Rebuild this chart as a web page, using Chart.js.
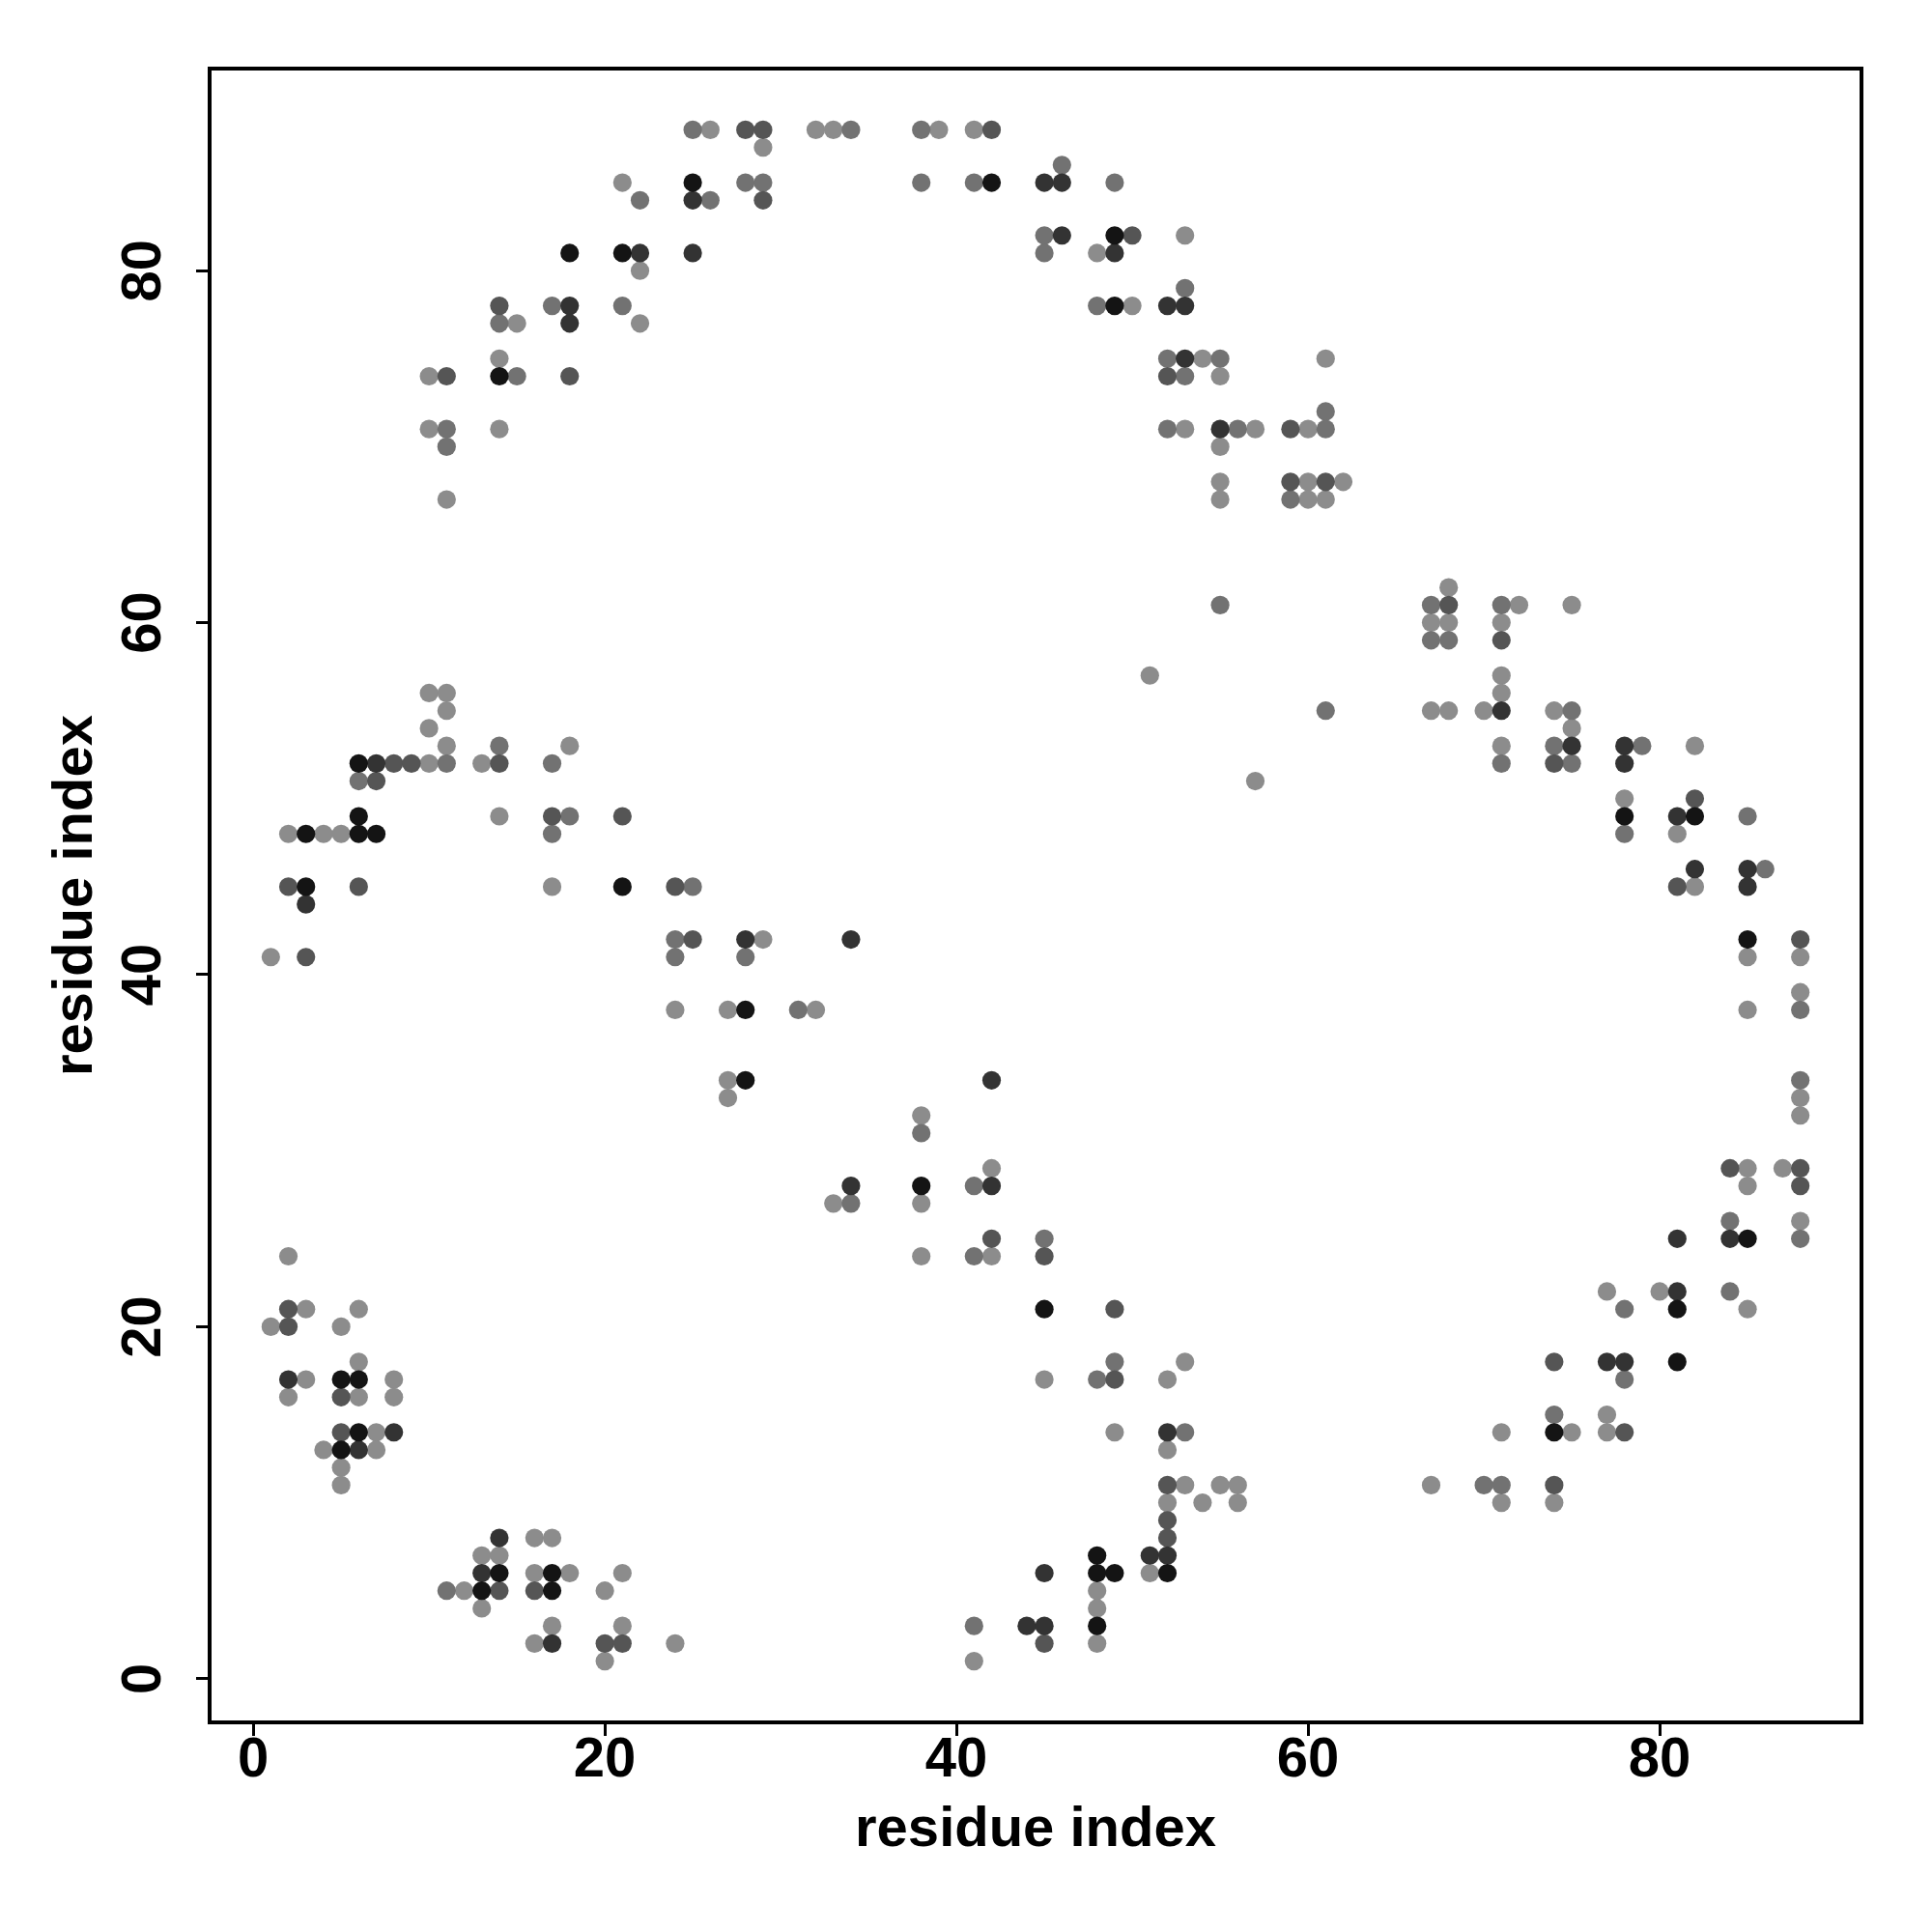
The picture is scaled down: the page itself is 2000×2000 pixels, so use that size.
<!DOCTYPE html>
<html>
<head>
<meta charset="utf-8">
<script src="https://cdn.jsdelivr.net/npm/chart.js@4.4.1/dist/chart.umd.min.js"></script>
<style>
  html, body { margin: 0; padding: 0; background: #fff; }
  #wrap { width: 2000px; height: 2000px; }
</style>
</head>
<body>
<div id="wrap"><canvas id="contactMap" width="2000" height="2000"></canvas></div>
<script>
// axis
const tickValues = [0, 20, 40, 60, 80];
const axisMin = -2.48;
const axisMax = 91.48;
const axisTitle = 'residue index';

// contacts [i, j], grouped by shade (0 = strongest / darkest)
const contacts0 = [
  [25,85],[42,85],[49,82],[49,78],[21,81],[18,81],[14,74],
  [6,52],[6,49],[3,48],[6,48],[7,48],[3,45],[21,45],
  [28,38],[28,34],[38,28],
  [5,17],[6,17],[6,14],[5,13],[14,6],[17,6],[13,5],[17,5],
  [45,21],[48,7],[48,6],[49,6],[52,6],[48,3],
  [78,49],[82,49],[85,42],[85,25],[81,21],[74,14],[81,18]
];
const contacts1 = [
  [45,85],[46,85],[46,82],[49,81],[52,78],[53,78],[53,75],[55,71],
  [25,84],[22,81],[25,81],[18,78],[18,77],
  [7,52],[3,44],[28,42],[34,42],[42,34],[34,28],[42,28],
  [2,17],[8,14],[6,13],[14,8],[13,6],[17,2],
  [44,3],[45,3],[51,7],[52,7],[45,6],[52,14],
  [71,55],[75,53],[78,53],[78,52],[81,49],[82,46],[85,46],[85,45],
  [81,25],[84,25],[81,22],[77,18],[78,18]
];
const contacts2 = [
  [28,88],[29,88],[42,88],[29,84],[50,82],[52,74],[59,71],[59,68],[61,68],
  [14,78],[11,74],[18,74],
  [8,52],[9,52],[14,52],[7,51],[17,49],[21,49],[2,45],[6,45],[3,41],
  [24,45],[25,42],
  [2,21],[2,20],[5,16],[5,14],[14,5],[16,5],[20,2],[21,2],
  [42,25],[45,24],[49,21],[49,17],[52,11],[52,9],[52,8],[45,2],
  [68,61],[71,59],[74,52],[82,50],[81,45],[88,42],
  [84,29],[88,29],[88,28],[74,18],[78,14],[74,11]
];
const contacts3 = [
  [25,88],[34,88],[38,88],[28,85],[29,85],[38,85],[41,85],[22,84],[26,84],
  [46,86],[49,85],[45,82],[45,81],[53,79],[48,78],[52,75],[55,75],[53,74],
  [61,72],[52,71],[56,71],[61,71],[59,67],
  [21,78],[17,78],[14,77],[15,74],[11,71],[11,70],
  [55,61],[61,55],
  [67,61],[71,61],[67,59],[68,59],[75,55],[74,53],[79,53],[71,52],[75,52],
  [78,48],[86,46],[85,49],[88,38],[88,34],
  [14,53],[11,52],[17,52],[6,51],[18,49],[17,48],
  [25,45],[24,42],[24,41],[28,41],[31,38],
  [38,31],[41,28],[34,27],[41,24],[11,5],
  [41,3],[45,25],[49,18],[48,17],[53,14],
  [84,26],[88,25],[84,22],[78,21],[78,17],[74,15],[70,11],[71,11]
];
const contacts4 = [
  [26,88],[32,88],[33,88],[39,88],[41,88],[29,87],[21,85],[53,82],[48,81],
  [50,78],[54,75],[61,75],[55,74],[53,71],[57,71],[60,71],[55,70],
  [55,68],[60,68],[62,68],[55,67],[60,67],[61,67],
  [22,80],[22,77],[15,77],[14,75],[10,74],[10,71],[14,71],[11,67],
  [68,62],[72,61],[75,61],[67,60],[68,60],[71,60],[71,57],[71,56],
  [67,55],[68,55],[70,55],[74,55],[75,54],[71,53],[82,53],[78,50],[81,48],
  [82,45],[85,41],[88,41],[88,39],[85,38],[88,33],[88,32],
  [51,57],[57,51],
  [10,56],[11,56],[11,55],[10,54],[11,53],[18,53],[10,52],[13,52],[14,49],
  [2,48],[4,48],[5,48],[17,45],[1,41],
  [29,42],[24,38],[27,38],[32,38],[27,34],[27,33],[38,32],
  [42,29],[33,27],[38,27],[38,24],[42,24],
  [2,24],[3,21],[6,21],[1,20],[5,20],[6,18],[3,17],[8,17],[2,16],[6,16],[8,16],
  [7,14],[4,13],[7,13],[5,12],[5,11],
  [16,8],[17,8],[13,7],[14,7],[16,6],[18,6],[21,6],[12,5],[20,5],[13,4],
  [17,3],[21,3],[16,2],[20,1],[24,2],
  [41,1],[45,17],[52,17],[53,18],[49,14],[52,13],[53,11],[55,11],[56,11],
  [54,10],[52,10],[56,10],[51,6],[48,5],[48,4],[48,2],
  [85,29],[87,29],[85,28],[88,26],[77,22],[80,22],[85,21],[77,15],
  [71,14],[75,14],[77,14],[67,11],[71,10],[74,10]
];

const shadeColors = ['#141414', '#333333', '#555555', '#727272', '#8c8c8c'];
const contactLevels = [contacts0, contacts1, contacts2, contacts3, contacts4];

// lightest first so darker points sit on top
const datasets = contactLevels.map((pairs, k) => ({
    label: 'level ' + k,
    data: pairs.map(p => ({ x: p[0], y: p[1] })),
    backgroundColor: shadeColors[k],
    borderWidth: 0,
    pointRadius: 9.6,
    pointHoverRadius: 9.6,
    order: k
})).reverse();

const fontFamily = '"Liberation Sans", Arial, Helvetica, sans-serif';

const boxPlugin = {
    id: 'plotBox',
    afterDatasetsDraw(chart) {
        const { ctx, chartArea: a } = chart;
        ctx.save();
        ctx.lineWidth = 4;
        ctx.strokeStyle = '#000';
        ctx.strokeRect(a.left, a.top, a.right - a.left, a.bottom - a.top);
        ctx.restore();
    }
};

function axisOptions(isY) {
    return {
        type: 'linear',
        min: axisMin,
        max: axisMax,
        afterBuildTicks: s => { s.ticks = tickValues.map(v => ({ value: v })); },
        afterFit: s => {
            if (isY) s.width = 217;
            else s.height = 217;
        },
        border: { display: false },
        grid: {
            drawOnChartArea: false,
            drawTicks: true,
            tickLength: 14,
            tickWidth: 3,
            tickColor: '#000'
        },
        ticks: {
            color: '#000',
            padding: isY ? 21 : -9,
            crossAlign: isY ? 'center' : 'near',
            minRotation: isY ? 90 : 0,
            maxRotation: isY ? 90 : 0,
            font: { family: fontFamily, size: 58, weight: 'bold' }
        },
        title: {
            display: true,
            text: axisTitle,
            color: '#000',
            padding: isY ? { top: 44, bottom: 44 } : { top: 70, bottom: 70 },
            font: { family: fontFamily, size: 58, weight: 'bold' }
        }
    };
}

new Chart(document.getElementById('contactMap'), {
    type: 'scatter',
    data: { datasets: datasets },
    options: {
        responsive: false,
        animation: false,
        layout: { padding: { top: 71, right: 73, left: 0, bottom: 0 } },
        plugins: {
            legend: { display: false },
            tooltip: { enabled: false }
        },
        scales: {
            x: axisOptions(false),
            y: axisOptions(true)
        }
    },
    plugins: [boxPlugin]
});
</script>
</body>
</html>
